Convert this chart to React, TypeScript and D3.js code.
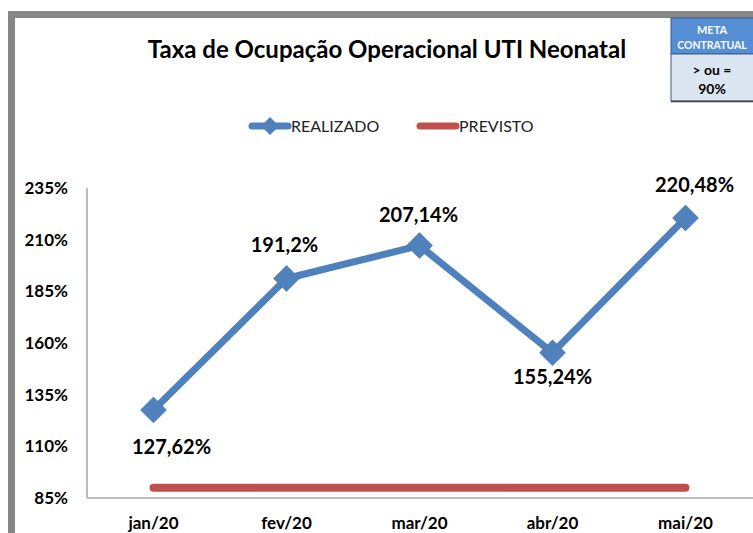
import React from "react";
import * as d3 from "d3";

const categories = ["jan/20", "fev/20", "mar/20", "abr/20", "mai/20"];
const realizado = [127.62, 191.2, 207.14, 155.24, 220.48];
const previsto = [90, 90, 90, 90, 90];
const realizadoLabels = ["127,62%", "191,2%", "207,14%", "155,24%", "220,48%"];
const yTicks = [85, 110, 135, 160, 185, 210, 235];

const W = 753, H = 533;
const FONT = "Lato, 'Open Sans', sans-serif";

export default function App() {
  const x = d3.scaleBand<string>().domain(categories).range([87, 752]);
  const cx = (c: string) => (x(c) as number) + x.bandwidth() / 2;
  const y = d3.scaleLinear().domain([85, 235]).range([498, 188]);
  const line = d3.line<number>().x((_, i) => cx(categories[i])).y((d) => y(d));
  const blue = "#4f81bd";
  const red = "#c0504d";
  const labelPos = [
    { dx: 18, dy: 37 },
    { dx: -2, dy: -34 },
    { dx: -1, dy: -31 },
    { dx: 0, dy: 24 },
    { dx: 9, dy: -33 },
  ];
  const diamond = (px: number, py: number, r: number) =>
    `M${px},${py - r}L${px + r},${py}L${px},${py + r}L${px - r},${py}Z`;

  return (
    <svg width={W} height={H} style={{ position: "absolute", left: 0, top: 0 }} fontFamily={FONT}>
      <rect x={0} y={0} width={W} height={H} fill="#fff" />
      <rect x={11.5} y={14.5} width={W + 20} height={H + 20} fill="#fff" stroke="#868686" strokeWidth={7} />
      <text x={387} y={58} textAnchor="middle" fontSize={24} fontWeight="bold" fill="#000">
        Taxa de Ocupação Operacional UTI Neonatal
      </text>
      <rect x={671} y={18} width={84} height={36} fill="#558ed5" stroke="#385d8a" strokeWidth={1} />
      <rect x={671} y={54} width={84} height={47} fill="#dce6f2" stroke="#385d8a" strokeWidth={1} />
      <line x1={671} x2={753} y1={101.5} y2={101.5} stroke="#404040" strokeWidth={1.5} />
      <text x={712} y={34} textAnchor="middle" fontSize={11} fontWeight="bold" fill="#fff">META</text>
      <text x={712} y={49} textAnchor="middle" fontSize={10.5} fontWeight="bold" fill="#fff">CONTRATUAL</text>
      <text x={712} y={75} textAnchor="middle" fontSize={14} fontWeight="bold" fill="#000">&gt; ou =</text>
      <text x={712} y={94} textAnchor="middle" fontSize={14} fontWeight="bold" fill="#000">90%</text>
      <line x1={252} x2={288} y1={126} y2={126} stroke={blue} strokeWidth={7} strokeLinecap="round" />
      <path d={diamond(270, 126, 9)} fill={blue} />
      <text x={291} y={132} fontSize={16} fill="#222">REALIZADO</text>
      <line x1={420} x2={456} y1={126} y2={126} stroke={red} strokeWidth={7} strokeLinecap="round" />
      <text x={459} y={132} fontSize={16} fill="#222">PREVISTO</text>
      <line x1={87} x2={87} y1={188} y2={498} stroke="#a6a6a6" strokeWidth={1.5} />
      <line x1={87} x2={753} y1={498} y2={498} stroke="#a6a6a6" strokeWidth={1.5} />
      {yTicks.map((t) => (
        <text key={t} x={68} y={y(t) + 6} textAnchor="end" fontSize={17} fontWeight="bold" fill="#000">
          {t}%
        </text>
      ))}
      {categories.map((c) => (
        <text key={c} x={cx(c)} y={529} textAnchor="middle" fontSize={17} fontWeight="bold" fill="#000">
          {c}
        </text>
      ))}
      <path d={line(previsto) as string} fill="none" stroke={red} strokeWidth={8} strokeLinecap="round" />
      <path d={line(realizado) as string} fill="none" stroke={blue} strokeWidth={7} strokeLinejoin="round" />
      {realizado.map((v, i) => (
        <path key={i} d={diamond(cx(categories[i]), y(v), 13)} fill={blue} stroke="#3f6fa8" strokeWidth={0.5} />
      ))}
      {realizado.map((v, i) => (
        <text
          key={"l" + i}
          x={cx(categories[i]) + labelPos[i].dx}
          y={y(v) + labelPos[i].dy + 7}
          textAnchor="middle"
          fontSize={20}
          fontWeight="bold"
          fill="#000"
        >
          {realizadoLabels[i]}
        </text>
      ))}
    </svg>
  );
}
